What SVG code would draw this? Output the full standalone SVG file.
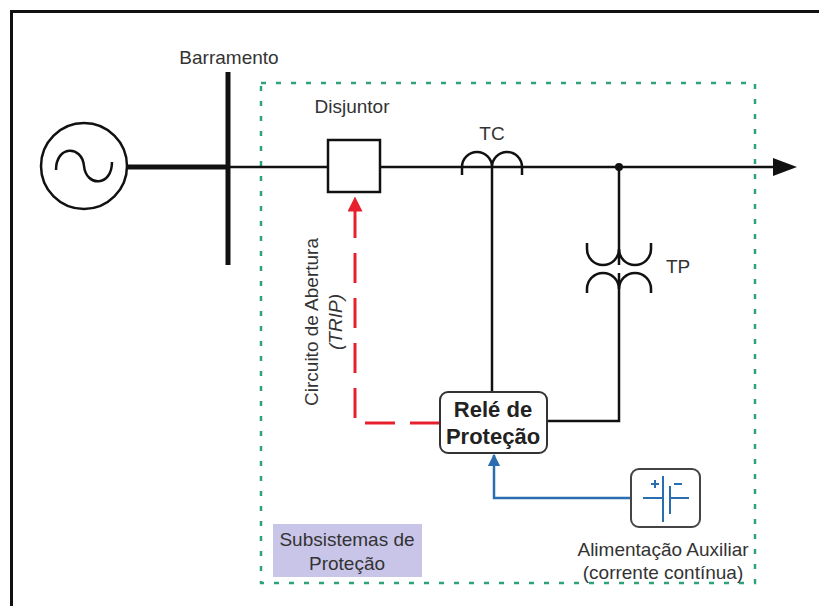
<svg xmlns="http://www.w3.org/2000/svg" width="819" height="606" viewBox="0 0 819 606">
<defs>
<style>
.t{font-family:"Liberation Sans",Arial,sans-serif;font-size:19px;fill:#333}
.b{font-weight:bold;font-size:22px;fill:#222}
.ln{fill:none;stroke:#111;stroke-width:2.5}
</style>
<marker id="ar" viewBox="0 0 10 10" refX="9" refY="5" markerWidth="5" markerHeight="5" markerUnits="strokeWidth" orient="auto"><path d="M0,0 L10,5 L0,10 z" fill="#e8202e"/></marker>
<marker id="ab" viewBox="0 0 10 10" refX="9" refY="5" markerWidth="5" markerHeight="6" markerUnits="strokeWidth" orient="auto"><path d="M0,0 L10,5 L0,10 z" fill="#2a6db0"/></marker>
</defs>
<rect x="0" y="0" width="819" height="606" fill="#fff"/>
<rect x="11.5" y="11.5" width="830" height="620" fill="none" stroke="#111" stroke-width="3"/>
<rect id="subsistema" x="261" y="83" width="494" height="500" fill="none" stroke="#2ea37a" stroke-width="2.5" stroke-dasharray="5 10"/>
<g id="connectors">
<line x1="128" y1="167" x2="228" y2="167" stroke="#111" stroke-width="5"/>
<line x1="228" y1="167" x2="776" y2="167" stroke="#111" stroke-width="2.5"/>
<polygon points="773,158 797,167 773,176" fill="#111"/>
<path class="ln" d="M492,167 V392"/>
<path class="ln" d="M619,167 V265 M619,273 V421 H547"/>
<circle cx="619" cy="167" r="4" fill="#111"/>
<path d="M440,423 H355 V198" fill="none" stroke="#e8202e" stroke-width="3" stroke-dasharray="30 15" marker-end="url(#ar)"/>
<path d="M631,498 H494 V455" fill="none" stroke="#2a6db0" stroke-width="2.5" marker-end="url(#ab)"/>
</g>
<g id="gerador">
<circle cx="84" cy="166" r="43" fill="#fff" stroke="#111" stroke-width="2.5"/>
<path d="M56,170 C56,145 82,145 84,166 C86,187 112,187 112,162" fill="none" stroke="#111" stroke-width="2.5"/>
</g>
<g id="barramento">
<line x1="228" y1="72" x2="228" y2="265" stroke="#111" stroke-width="5"/>
<text class="t" x="229" y="64" text-anchor="middle">Barramento</text>
</g>
<g id="disjuntor">
<rect x="328" y="140" width="52" height="52" fill="#fff" stroke="#111" stroke-width="2.5"/>
<text class="t" x="352" y="113" text-anchor="middle">Disjuntor</text>
</g>
<g id="tc">
<path class="ln" d="M462,175 V167 A15,15 0 0 1 492,167 A15,15 0 0 1 522,167 V175"/>
<text class="t" x="492" y="140" text-anchor="middle">TC</text>
</g>
<g id="tp">
<path class="ln" d="M587,243 V249 A16,16 0 0 0 619,249 A16,16 0 0 0 651,249 V243"/>
<path class="ln" d="M587,293 V289 A16,16 0 0 1 619,289 A16,16 0 0 1 651,289 V293"/>
<text class="t" x="666" y="273">TP</text>
</g>
<g id="rele">
<rect x="440" y="392" width="107" height="61" rx="8" fill="#fff" stroke="#333" stroke-width="2"/>
<text class="t b" x="493" y="417" text-anchor="middle">Relé de</text>
<text class="t b" x="493" y="444" text-anchor="middle">Proteção</text>
</g>
<g id="trip-label">
<text class="t" transform="translate(318,322) rotate(-90)" text-anchor="middle">Circuito de Abertura</text>
<text class="t" transform="translate(342,322) rotate(-90)" text-anchor="middle" font-style="italic">(TRIP)</text>
</g>
<g id="alimentacao">
<rect x="631" y="469" width="69" height="58" rx="8" fill="#fff" stroke="#444" stroke-width="2"/>
<g stroke="#2a6db0" stroke-width="2" fill="none">
<path d="M643,498 H663 M663,476 V522 M670,486 V514 M670,498 H689"/>
<path d="M651,484 H659 M655,480 V488 M674,484 H682"/>
</g>
<text class="t" x="663" y="556" text-anchor="middle">Alimentação Auxiliar</text>
<text class="t" x="663" y="579" text-anchor="middle">(corrente contínua)</text>
</g>
<g id="legenda">
<rect x="273" y="524" width="149" height="53" fill="#c9c5e8"/>
<text class="t" x="347" y="546" text-anchor="middle">Subsistemas de</text>
<text class="t" x="347" y="570" text-anchor="middle">Proteção</text>
</g>
</svg>
